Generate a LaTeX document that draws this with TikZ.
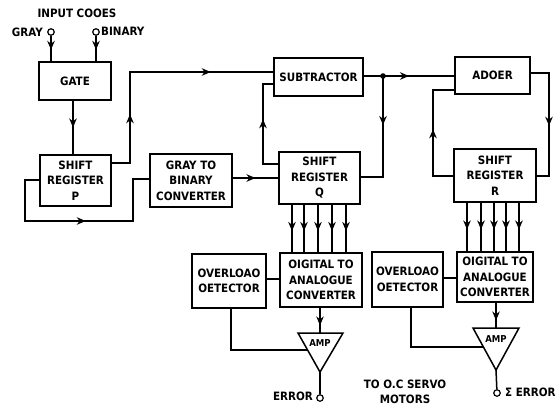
\documentclass[tikz,border=0pt]{standalone}
\usepackage{fontspec}
\setmainfont{DejaVu Sans Condensed}
\usetikzlibrary{arrows.meta,decorations.markings}
\tikzset{
  box/.style={draw,line width=1.5pt,align=center,inner sep=1pt,
    font=\fontsize{11.5}{15.5}\selectfont\bfseries},
  lbl/.style={font=\fontsize{11.5}{15.5}\selectfont\bfseries,align=center,inner sep=0pt},
  wire/.style={line width=1.5pt},
  tipa/.tip={Stealth[length=9pt,width=7.5pt]},
  arrowat/.style={postaction={decorate},decoration={markings,
    mark=at position #1 with {\arrow{tipa}}}},
  arrowtwo/.style 2 args={postaction={decorate},decoration={markings,
    mark=at position #1 with {\arrow{tipa}},
    mark=at position #2 with {\arrow{tipa}}}},
  term/.style={circle,draw,line width=1.2pt,minimum size=6.5pt,inner sep=0pt},
}
\begin{document}
\begin{tikzpicture}[x=1pt,y=-1pt]
\useasboundingbox (0,0) rectangle (556,407);
% boxes
\node[box,minimum width=72pt,minimum height=38pt] (gate) at (75,81) {GATE};
\node[box,minimum width=71pt,minimum height=51pt] (regP) at (75.5,180.5) {SHIFT\\REGISTER\\P};
\node[box,minimum width=82pt,minimum height=53pt] (g2b) at (191,180.5) {GRAY TO\\BINARY\\CONVERTER};
\node[box,minimum width=81pt,minimum height=52pt] (regQ) at (319.5,178) {SHIFT\\REGISTER\\Q};
\node[box,minimum width=89pt,minimum height=38pt] (sub) at (318.5,77) {SUBTRACTOR};
\node[box,minimum width=75pt,minimum height=37pt] (add) at (492.5,75.5) {ADOER};
\node[box,minimum width=82pt,minimum height=53pt] (regR) at (495,175.5) {SHIFT\\REGISTER\\R};
\node[box,minimum width=82pt,minimum height=54pt] (dacQ) at (321,280) {OIGITAL TO\\ANALOGUE\\CONVERTER};
\node[box,minimum width=74pt,minimum height=54pt] (ovQ) at (229,281) {OVERLOAO\\OETECTOR};
\node[box,minimum width=76pt,minimum height=50pt] (dacR) at (495,277) {OIGITAL TO\\ANALOGUE\\CONVERTER};
\node[box,minimum width=71pt,minimum height=55pt] (ovR) at (407.5,279.5) {OVERLOAO\\OETECTOR};
% amplifiers
\coordinate (aQ1) at (298,333); \coordinate (aQ2) at (343,333); \coordinate (aQ3) at (320,372);
\coordinate (aR1) at (473,328); \coordinate (aR2) at (519,328); \coordinate (aR3) at (496,370);
\draw[wire,line join=miter] (aQ1) -- (aQ2) -- (aQ3) -- cycle;
\draw[wire,line join=miter] (aR1) -- (aR2) -- (aR3) -- cycle;
\node[lbl,font=\fontsize{9.5}{11}\selectfont\bfseries] (ampQ) at (320,343) {AMP};
\node[lbl,font=\fontsize{9.5}{11}\selectfont\bfseries] (ampR) at (496,339) {AMP};
\coordinate (aQtop) at (320,333); \coordinate (aRtop) at (496,328);
\coordinate (aQin) at (307.6,350); \coordinate (aRin) at (483.4,347);
% terminals and labels
\node[term] (tgray) at (51,32) {};
\node[term] (tbin) at (96,32) {};
\node[term] (terrQ) at (320,398) {};
\node[term] (terrR) at (497,393) {};
\node[lbl] (tinput) at (77,13) {INPUT COOES};
\node[lbl,anchor=east] (tgraylbl) at (43,32) {GRAY};
\node[lbl,anchor=west] (tbinlbl) at (101,31) {BINARY};
\node[lbl,anchor=east] (terrQlbl) at (313,396) {ERROR};
\node[lbl,anchor=west] (terrRlbl) at (505,392) {Σ ERROR};
\node[lbl] (tservo) at (405,392) {TO O.C SERVO\\MOTORS};
% connectors
\draw[wire,arrowat=0.55] (tgray) -- (tgray |- gate.north);
\draw[wire,arrowat=0.55] (tbin) -- (tbin |- gate.north);
\draw[wire,arrowat=0.5] ([xshift=-2pt]gate.south) -- ([xshift=-2pt]gate.south |- regP.north);
\draw[wire,arrowtwo={67pt}{190pt}] ([yshift=17.5pt]regP.east) -- (130,163) -- (130,72) -- ([yshift=5pt]sub.west);
\draw[wire,arrowat=116pt] ([yshift=0.5pt]regP.west) -- (25,180) -- (25,221) -- (133,221) -- (133,179) -- ([yshift=1.5pt]g2b.west);
\draw[wire,arrowat=0.5] ([yshift=2.5pt]g2b.east) -- (regQ.west);
\draw[wire,arrowat=60pt] ([yshift=14pt]regQ.west) -- (263,164) -- (263,84) -- ([yshift=-7pt]sub.west);
\coordinate (dot) at (383,76);
\draw[wire,arrowat=0.5] ([yshift=1pt]sub.east) -- (dot) -- ([yshift=-0.5pt]add.west);
\fill (dot) circle (2.8pt);
\draw[wire,arrowat=49pt] (dot) -- (383,177) -- ([yshift=1pt]regQ.east);
\draw[wire,arrowat=71pt] ([yshift=2.5pt]add.east) -- (549,73) -- (549,176) -- ([yshift=-0.5pt]regR.east);
\draw[wire,arrowat=67pt] ([yshift=-0.5pt]regR.west) -- (433,176) -- (433,90) -- ([yshift=-14.5pt]add.west);
\foreach \x in {292,304,318,332,346} \draw[wire,arrowat=0.55] (\x,204) -- (\x,253);
\foreach \x in {467,481,494,506,519} \draw[wire,arrowat=0.55] (\x,202) -- (\x,252);
\draw[wire] ([yshift=2pt]ovQ.east) -- ([yshift=1pt]dacQ.west);
\draw[wire] ([yshift=1.5pt]ovR.east) -- ([yshift=-1pt]dacR.west);
\draw[wire,arrowat=0.7] ([xshift=-1pt]dacQ.south) -- (aQtop);
\draw[wire,arrowat=0.7] ([xshift=1pt]dacR.south) -- (aRtop);
\draw[wire] ([xshift=2pt]ovQ.south) |- (aQin);
\draw[wire] ([xshift=3.5pt]ovR.south) |- (aRin);
\draw[wire] (aQ3) -- (terrQ);
\draw[wire] (aR3) -- (terrR);
\end{tikzpicture}
\end{document}
